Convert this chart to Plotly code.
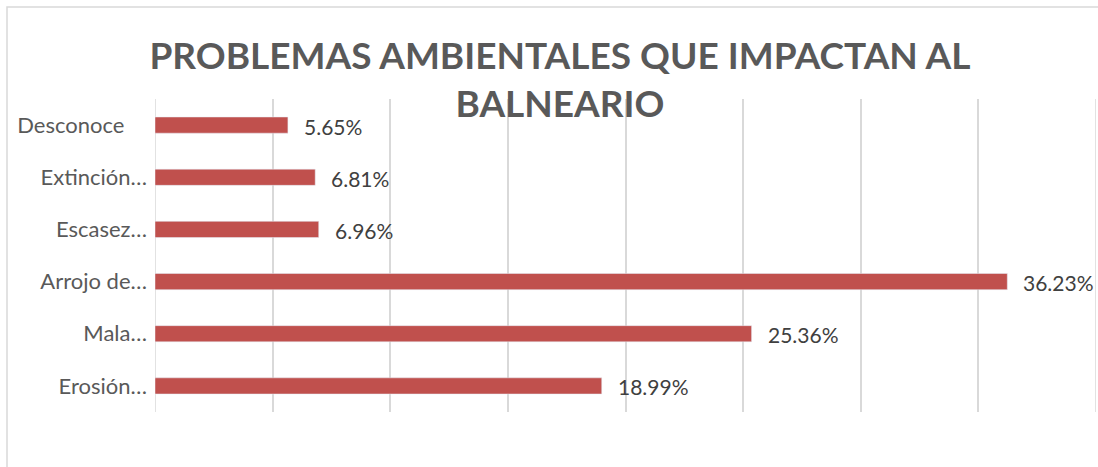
import plotly.graph_objects as go

categories = ["Erosión…", "Mala…", "Arrojo de…", "Escasez…", "Extinción…", "Desconoce\u00a0\u00a0\u00a0\u00a0"]
values = [0.1899, 0.2536, 0.3623, 0.0696, 0.0681, 0.0565]
labels = ["18.99%", "25.36%", "36.23%", "6.96%", "6.81%", "5.65%"]
x_range = [0, 0.40]

W, H = 1098, 467
L, R, T, B = 155, 2, 99, 55
pw = W - L - R
ph = H - T - B

fig = go.Figure(go.Bar(
    x=values, y=categories, orientation="h",
    marker=dict(color="#c0504d"),
    width=0.31,
    cliponaxis=False,
))

for v, c, t in zip(values, categories, labels):
    fig.add_annotation(x=v, y=c, text=t, showarrow=False, xanchor="left",
                       yanchor="middle", xshift=14, yshift=-1,
                       font=dict(family="Lato", size=21, color="#404040"))

shapes = [dict(type="rect", xref="paper", yref="paper",
               x0=(7 - L) / pw, x1=(W + 5 - L) / pw,
               y0=-(B + 10) / ph, y1=(H - 7 - B) / ph,
               line=dict(color="#d9d9d9", width=1.5), fillcolor="rgba(0,0,0,0)", layer="below")]
for xv in x_range:
    shapes.append(dict(type="line", xref="x", yref="paper", x0=xv, x1=xv, y0=0, y1=1,
                       line=dict(color="#d9d9d9", width=1.5), layer="below"))

fig.update_layout(
    width=W, height=H,
    margin=dict(l=L, r=R, t=T, b=B, autoexpand=False),
    paper_bgcolor="white", plot_bgcolor="white",
    showlegend=False,
    font=dict(family="Lato", size=22, color="#595959"),
    title=dict(
        text="PROBLEMAS AMBIENTALES QUE IMPACTAN AL<br>BALNEARIO",
        font=dict(family="Lato", size=37, color="#595959", weight="bold"),
        x=0.51, xanchor="center", y=0.853, yanchor="middle",
        automargin=False,
    ),
    xaxis=dict(range=x_range, tick0=0, dtick=0.05, showgrid=True, gridcolor="#d9d9d9",
               gridwidth=1.5, showticklabels=False, zeroline=False, showline=False,
               automargin=False),
    yaxis=dict(showgrid=False, ticks="", ticklabelstandoff=7, automargin=False,
               tickfont=dict(family="Lato", size=22, color="#595959"),
               categoryorder="array", categoryarray=categories),
    shapes=shapes,
)

fig.write_html("out.html", config={"displayModeBar": False},
               post_script="document.body.style.margin='0';document.body.style.overflow='hidden';")
